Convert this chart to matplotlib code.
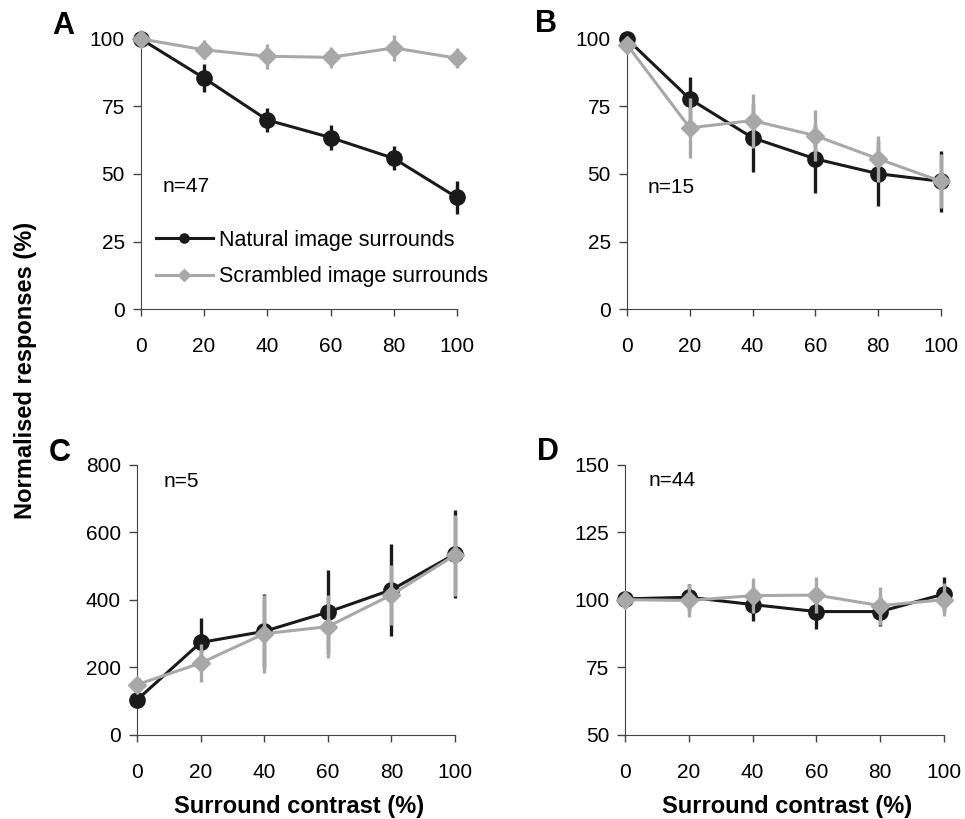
import numpy as np
import matplotlib
matplotlib.use("Agg")
import matplotlib.pyplot as plt

plt.rcParams['font.family'] = ['Liberation Sans', 'DejaVu Sans']

contrast = [0, 20, 40, 60, 80, 100]

# A
a_nat = [100, 85.5, 70.0, 63.5, 55.8, 41.3]
a_nat_err = [0, 5.2, 4.5, 4.6, 4.5, 6.0]
a_scr = [100, 96.0, 93.6, 93.2, 96.7, 92.9]
a_scr_err = [0, 3.5, 4.7, 4.0, 4.8, 3.8]

# B
b_nat = [100, 77.8, 63.4, 55.6, 50.1, 47.3]
b_nat_err = [0, 8.0, 12.7, 12.6, 12.0, 11.3]
b_scr = [97.9, 67.1, 69.8, 64.2, 55.6, 47.3]
b_scr_err = [0, 11.0, 10.0, 9.5, 8.5, 10.0]

# C
c_nat = [104, 274, 307, 364, 430, 536]
c_nat_err = [0, 72, 110, 125, 137, 130]
c_scr = [149, 213, 300, 321, 415, 533]
c_scr_err = [0, 57, 115, 93, 90, 120]

# D
d_nat = [100.4, 101.0, 98.3, 95.7, 95.7, 102.2]
d_nat_err = [0, 5.0, 6.0, 6.5, 5.5, 6.4]
d_scr = [100.1, 99.8, 101.6, 101.8, 97.9, 100.1]
d_scr_err = [2.5, 6.0, 6.4, 6.8, 7.0, 6.0]

panels = [
    ("A", a_nat, a_nat_err, a_scr, a_scr_err, (0, 100), [0, 25, 50, 75, 100], "n=47", (0.068, 0.455)),
    ("B", b_nat, b_nat_err, b_scr, b_scr_err, (0, 100), [0, 25, 50, 75, 100], "n=15", (0.067, 0.45)),
    ("C", c_nat, c_nat_err, c_scr, c_scr_err, (0, 800), [0, 200, 400, 600, 800], "n=5", (0.085, 0.937)),
    ("D", d_nat, d_nat_err, d_scr, d_scr_err, (50, 150), [50, 75, 100, 125, 150], "n=44", (0.075, 0.941)),
]

rects = [
    [0.146, 0.6227, 0.3275, 0.3297],
    [0.6497, 0.6227, 0.3254, 0.3297],
    [0.142, 0.1026, 0.3295, 0.3297],
    [0.6477, 0.1026, 0.3305, 0.3297],
]
letter_pos = [(0.0658, 0.968), (0.5653, 0.971), (0.0622, 0.447), (0.5674, 0.4475)]

black = "#1a1a1a"
grey = "#a8a8a8"

fig = plt.figure(figsize=(9.65, 8.19), dpi=100)

for i, (lab, nat, nat_e, scr, scr_e, ylim, yt, ntext, npos) in enumerate(panels):
    ax = fig.add_axes(rects[i])
    # error bars first, then the line + markers of each series
    ax.errorbar(contrast, nat, yerr=nat_e, fmt='none', ecolor=black, elinewidth=2.4,
                capsize=0, clip_on=False, zorder=3)
    ax.plot(contrast, nat, color=black, lw=2.2, marker='o', ms=11,
            label="Natural image surrounds", clip_on=False, zorder=3)
    ax.errorbar(contrast, scr, yerr=scr_e, fmt='none', ecolor=grey, elinewidth=2.4,
                capsize=0, clip_on=False, zorder=4)
    ax.plot(contrast, scr, color=grey, lw=2.2, marker='D', ms=9.5,
            label="Scrambled image surrounds", clip_on=False, zorder=4)
    ax.set_xlim(0, 100)
    ax.set_ylim(*ylim)
    ax.set_xticks(contrast)
    ax.set_yticks(yt)
    ax.spines['top'].set_visible(False)
    ax.spines['right'].set_visible(False)
    ax.spines['left'].set_color("#444444")
    ax.spines['bottom'].set_color("#444444")
    ax.tick_params(axis='both', direction='out', width=1, labelsize=15, colors="#444444",
                   labelcolor="black")
    ax.tick_params(axis='x', length=5, pad=15)
    ax.tick_params(axis='y', length=5.5, pad=6)
    ax.text(npos[0], npos[1], ntext, transform=ax.transAxes, fontsize=15, va='center')
    fig.text(letter_pos[i][0], letter_pos[i][1], lab, fontsize=22, fontweight='bold',
             ha='center', va='center')
    if i == 0:
        ax.legend(loc='center left', bbox_to_anchor=(0.047, 0.187), frameon=False, fontsize=15.5,
                  handlelength=2.65, handletextpad=0.28, labelspacing=0.72, borderaxespad=0,
                  borderpad=0, markerscale=0.6)

fig.text(0.3098, 0.0147, "Surround contrast (%)", fontsize=17, fontweight='bold',
         ha='center', va='center')
fig.text(0.816, 0.0147, "Surround contrast (%)", fontsize=17, fontweight='bold',
         ha='center', va='center')
fig.text(0.026, 0.548, "Normalised responses (%)", rotation=90, fontsize=17,
         fontweight='bold', ha='center', va='center')

plt.savefig("out.png", dpi=100)
